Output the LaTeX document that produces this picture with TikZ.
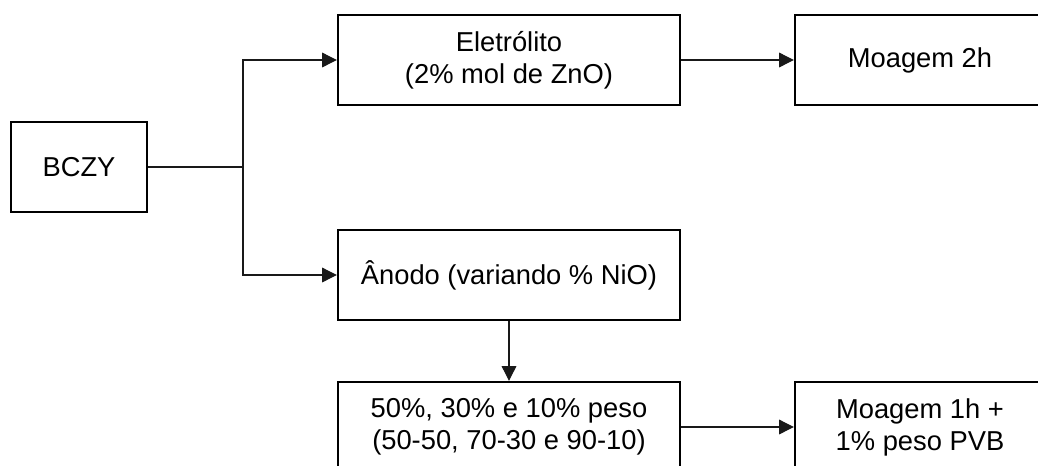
\documentclass[tikz,border=0pt]{standalone}
\usepackage{fontspec}
\setmainfont{Liberation Sans}
\usetikzlibrary{arrows.meta,calc}
\definecolor{BoxClr}{rgb}{0,0,0}
\definecolor{LineClr}{rgb}{0.1,0.1,0.1}

\begin{document}
\begin{tikzpicture}[x=0.75pt,y=-0.75pt,
  etapa/.style={draw=BoxClr,line width=1.8pt,minimum height=67.5pt,inner sep=0pt,
    align=center,font=\fontsize{20.5}{24}\selectfont},
  seta/.style={draw=LineClr,line width=0.8pt,-{Triangle[length=11pt,width=11pt]}}]
\useasboundingbox (0,0) rectangle (1038,465);
\clip (0,0) rectangle (1038,465);

\node[etapa,minimum width=102pt] (bczy) at (79,167) {BCZY};
\node[etapa,minimum width=256.5pt] (eletro) at (509,60) {Eletrólito\\(2\% mol de ZnO)};
\node[etapa,minimum width=187.5pt] (moag2) at (920,60) {Moagem 2h};
\node[etapa,minimum width=256.5pt] (anodo) at (509,275) {Ânodo (variando \% NiO)};
\node[etapa,minimum width=256.5pt] (peso) at (509,427) {50\%, 30\% e 10\% peso\\(50-50, 70-30 e 90-10)};
\node[etapa,minimum width=187.5pt] (moag1) at (920,427) {Moagem 1h +\\1\% peso PVB};

% split of the BCZY powder
\coordinate (div) at (243,167);
\draw[LineClr,line width=0.8pt] (bczy.east) -- (div);
\draw[seta] (div) |- (eletro.west);
\draw[seta] (div) |- (anodo.west);

\draw[seta] (eletro.east) -- (moag2.west);
\draw[seta] (anodo.south) -- (peso.north);
\draw[seta] (peso.east) -- (moag1.west);

\end{tikzpicture}
\end{document}
